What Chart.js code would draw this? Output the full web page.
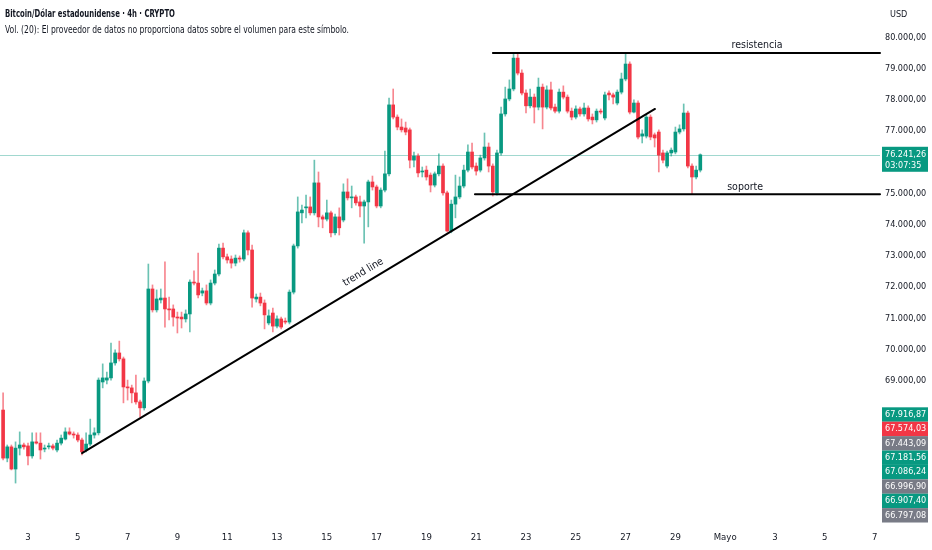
<!DOCTYPE html>
<html>
<head>
<meta charset="utf-8">
<script src="https://cdn.jsdelivr.net/npm/chart.js@4.4.1/dist/chart.umd.min.js"></script>
<style>
  html, body { margin: 0; padding: 0; background: #fff; }
  #wrap { position: relative; width: 932px; height: 550px; }
  #head { position: absolute; left: 5px; top: 5px; font-family: "DejaVu Sans Condensed", "DejaVu Sans", sans-serif; font-size: 10.5px; color: #131722; line-height: 16px; white-space: nowrap; }
  #head span { display: inline-block; transform-origin: 0 50%; }
  #head b { font-weight: bold; }
</style>
</head>
<body>
<div id="wrap">
  <canvas id="myChart" width="932" height="550"></canvas>
  <div id="head">
    <div><span id="h1" data-w="170"><b>Bitcoin/Dólar estadounidense · 4h · CRYPTO</b></span></div>
    <div><span id="h2" data-w="344">Vol. (20): El proveedor de datos no proporciona datos sobre el volumen para este símbolo.</span></div>
  </div>
</div>
<script>
// 4h candles, first bar = 2 Apr 00:00 (x axis is day of April, 31 = 1 May)
const firstBar = 2;
const barsPerDay = 6;

const open = [68060,66520,66880,66170,66840,66940,66910,66590,67040,67000,
  66810,66880,66910,66780,67000,67130,67360,67290,67260,67100,
  66780,66970,67260,67330,68960,69020,69090,69570,69890,69700,
  68800,68770,68610,68320,68130,68990,71940,71270,71590,71650,
  71300,71300,71040,71040,70980,71140,72160,72130,71810,71880,
  71490,72130,72420,73250,72970,72900,72770,72930,72900,73740,
  73190,71620,71680,71490,70850,71170,70750,70980,70910,70880,
  71840,73320,74380,74540,74570,74380,75340,74250,74180,74380,
  73740,74250,74150,75050,74860,74890,74730,74600,74730,75370,
  75210,74600,75110,75630,77840,77450,77130,77100,77040,76070,
  76200,75690,75750,75590,75270,75630,75880,75020,73800,74660,
  74890,75240,75750,76330,75880,75750,76140,76490,75880,75020,
  76300,77550,78030,78350,79340,78860,78220,77810,78090,77770,
  78410,77770,78320,77770,77640,78250,78090,77640,77450,77710,
  77550,77740,77450,77360,77640,77420,78220,78160,77900,78250,
  78670,79150,77610,77900,76840,76840,77450,76880,76970,76300,
  75880,76300,76330,76970,77070,77580,75880,75530,75750];

const high = [68610,66940,66940,67040,67360,67000,67000,67330,67330,67330,
  66940,67000,66970,67100,67260,67490,67490,67360,67330,67160,
  67330,67770,67490,69090,69540,69280,70210,69990,70270,69760,
  69020,68860,69180,68380,69090,72740,72070,71910,71940,72810,
  71680,71430,71200,71200,71270,72230,72520,73090,71970,72070,
  72230,72550,73380,73410,73060,73000,73030,73000,73830,73800,
  73350,71780,71810,71590,71270,71330,71080,71040,71010,71910,
  73380,74890,74630,74950,74890,76070,75690,74310,74790,74440,
  74340,74540,75310,75470,75240,74950,74920,74790,75430,75560,
  75270,75180,76360,78060,78350,77520,77390,77290,77100,76330,
  76270,75850,75880,75660,75690,76270,75950,75080,74790,75590,
  75530,75910,76560,76620,75980,76230,76940,76620,75950,76390,
  77770,78410,78640,79500,79500,78960,78320,78350,78190,78700,
  78510,78450,78570,77870,78350,78450,78160,77740,77810,77770,
  77900,77810,77550,77710,77710,78250,78290,78220,78320,78860,
  79500,79220,78000,77970,77040,77520,77520,76940,77040,76390,
  76360,76460,77130,77200,77870,77640,75950,75880,76270];

const low = [66460,66400,66140,65720,66620,66810,66300,66520,66970,66490,
  66720,66810,66780,66720,66940,67100,67260,67160,67040,66620,
  66720,66910,67160,67260,68770,68900,69020,69500,69630,68290,
  68380,68290,68250,67840,68060,68930,71200,71200,71490,70720,
  70950,70750,70530,70690,70880,70560,72070,71650,71720,71430,
  71430,72070,72360,72900,72770,72610,72680,72800,72840,73030,
  71360,71520,71400,70660,70790,70560,70690,70660,70820,70820,
  71780,73250,74060,74220,74310,74310,73930,73900,74120,73610,
  73670,73670,74090,74790,74540,74630,74250,73410,73930,75110,
  74540,74540,75050,75560,77390,77040,76970,76880,75820,75850,
  75530,75530,75430,75050,75210,75560,74950,73770,73740,74220,
  74830,75180,75690,75790,75590,75690,76070,75690,74920,74950,
  76230,77480,77970,78290,78800,78160,77580,77740,77260,77680,
  77070,77710,77680,77580,77580,78030,77580,77360,77390,77480,
  77480,77320,77230,77290,77550,77360,78000,77870,77840,78190,
  78610,77550,77580,76750,76620,76780,76720,76490,75690,75980,
  75820,76200,76270,76910,77000,75820,74990,75470,75690];

const close = [66520,66880,66170,66840,66940,66880,66590,67040,67000,66780,
  66840,66910,66840,67000,67160,67360,67290,67260,67100,66720,
  66970,67260,67330,69020,69090,69090,69570,69890,69700,68800,
  68770,68610,68320,68130,68990,71940,71270,71620,71650,71300,
  71270,71040,71010,70980,71140,72160,72130,71750,71880,71490,
  72130,72420,73250,72970,72870,72770,72930,72900,73740,73190,
  71650,71680,71490,71110,71080,70750,70980,70720,70880,71840,
  73320,74410,74470,74570,74380,75340,74250,74180,74380,73740,
  74250,73900,75050,74860,74890,74700,74600,74730,75370,75210,
  74600,75110,75630,77840,77450,77130,77040,76970,76070,76200,
  75660,75720,75530,75270,75630,75880,75020,73800,74660,74890,
  75240,75750,76330,75850,75720,76140,76490,75880,75050,76300,
  77550,78030,78350,79340,78860,78220,77810,78090,77770,78410,
  77770,78320,77740,77640,78250,78090,77640,77450,77710,77550,
  77740,77390,77360,77640,77610,78160,78160,78090,78250,78670,
  79150,77610,77900,76810,76910,77450,76810,76780,76230,76070,
  76300,76390,76970,77070,77580,75880,75530,75750,76241.26];

// axis ticks
const priceTicks = [69000,70000,71000,72000,73000,74000,75000,76000,77000,78000,79000,80000];
const dayTicks = [3,5,7,9,11,13,15,17,19,21,23,25,27,29,31,33,35,37];
const dayLabels = ["3","5","7","9","11","13","15","17","19","21","23","25","27","29","Mayo","3","5","7"];

// drawings on the chart
const trendLine = [{ x: 5.17, y: 66680 }, { x: 28.18, y: 77710 }];
const resistance = { from: 21.67, price: 79500 };
const support = { from: 20.95, price: 74980 };
const lastPrice = 76241.26;
const countdown = "03:07:35";

// price labels stacked at bottom of the scale
const sideValues = [67916.87, 67574.03, 67443.09, 67181.56, 67086.24, 66996.90, 66907.40, 66797.08];
const sideKinds = ["up", "down", "gray", "up", "up", "gray", "up", "gray"];

const up = "#089981";
const down = "#f23645";
const gray = "#787b86";
const font = "'DejaVu Sans Condensed', 'DejaVu Sans', sans-serif";

function fmt(v) {
  const parts = v.toFixed(2).split(".");
  return parts[0].replace(/\B(?=(\d{3})+(?!\d))/g, ".") + "," + parts[1];
}

const times = open.map((o, i) => firstBar + i / barsPerDay);
const colours = open.map((o, i) => (close[i] >= o ? up : down));
const wickColours = open.map((o, i) => (close[i] >= o ? "rgba(8,153,129,0.6)" : "rgba(242,54,69,0.6)"));

// last price line, behind candles
const priceLine = {
  id: "priceLine",
  beforeDatasetsDraw(chart) {
    const { ctx, chartArea: { left, right }, scales: { y } } = chart;
    const py = Math.round(y.getPixelForValue(lastPrice)) + 0.5;
    ctx.save();
    ctx.strokeStyle = "rgba(8,153,129,0.38)";
    ctx.lineWidth = 1;
    ctx.beginPath();
    ctx.moveTo(left, py);
    ctx.lineTo(right, py);
    ctx.stroke();
    ctx.restore();
  },
};

// trend line, resistencia, soporte
const drawings = {
  id: "drawings",
  afterDatasetsDraw(chart) {
    const { ctx, chartArea: { right }, scales: { x, y } } = chart;
    ctx.save();
    ctx.strokeStyle = "#000";
    ctx.lineWidth = 2;
    ctx.lineCap = "round";

    const x1 = x.getPixelForValue(trendLine[0].x);
    const y1 = y.getPixelForValue(trendLine[0].y);
    const x2 = x.getPixelForValue(trendLine[1].x);
    const y2 = y.getPixelForValue(trendLine[1].y);
    ctx.beginPath();
    ctx.moveTo(x1, y1);
    ctx.lineTo(x2, y2);
    ctx.stroke();

    const ry = y.getPixelForValue(resistance.price);
    ctx.beginPath();
    ctx.moveTo(x.getPixelForValue(resistance.from), ry);
    ctx.lineTo(right, ry);
    ctx.stroke();

    const sy = y.getPixelForValue(support.price);
    ctx.beginPath();
    ctx.moveTo(x.getPixelForValue(support.from), sy);
    ctx.lineTo(right, sy);
    ctx.stroke();

    ctx.fillStyle = "#131722";
    ctx.font = "10.5px " + font;
    ctx.textAlign = "center";
    ctx.textBaseline = "bottom";
    ctx.fillText("resistencia", x.getPixelForValue(32.28), ry - 3);
    ctx.fillText("soporte", x.getPixelForValue(31.8), sy - 2);

    // label along the trend line
    const angle = Math.atan2(y2 - y1, x2 - x1);
    const t = 0.5;
    ctx.translate(x1 + (x2 - x1) * t, y1 + (y2 - y1) * t);
    ctx.rotate(angle);
    ctx.fillText("trend line", 0, -5);
    ctx.restore();
  },
};

// labels on the price scale
const scaleLabels = {
  id: "scaleLabels",
  afterDraw(chart) {
    const { ctx, chartArea: { right }, scales: { y } } = chart;
    const boxL = right + 2;
    const boxW = 46;
    ctx.save();
    ctx.font = "9px " + font;
    ctx.textAlign = "left";
    ctx.textBaseline = "middle";

    // USD
    ctx.fillStyle = "#131722";
    ctx.fillText("USD", boxL + 8, 14.5);

    // last price + countdown
    const ly = y.getPixelForValue(lastPrice);
    ctx.fillStyle = up;
    ctx.fillRect(boxL, ly - 8, boxW, 25);
    ctx.fillStyle = "#fff";
    ctx.fillText(fmt(lastPrice), boxL + 3, ly);
    ctx.fillText(countdown, boxL + 3, ly + 11);

    // stacked values
    const h = 14.4;
    let prev = -Infinity;
    sideValues.forEach((v, i) => {
      let cy = y.getPixelForValue(v);
      if (cy < prev + h) cy = prev + h;
      prev = cy;
      const k = sideKinds[i];
      ctx.fillStyle = k === "up" ? up : k === "down" ? down : gray;
      ctx.fillRect(boxL, cy - h / 2, boxW, h);
      ctx.fillStyle = "#fff";
      ctx.fillText(fmt(v), boxL + 3, cy);
    });
    ctx.restore();
  },
};

const data = {
  datasets: [
    {
      label: "wicks",
      data: times.map((t, i) => ({ x: t, y: [low[i], high[i]] })),
      backgroundColor: wickColours,
      barThickness: 1,
      grouped: false,
      minBarLength: 1,
      order: 1,
    },
    {
      label: "bodies",
      data: times.map((t, i) => ({ x: t, y: [open[i], close[i]] })),
      backgroundColor: colours,
      barThickness: 3,
      grouped: false,
      minBarLength: 1,
      order: 0,
    },
  ],
};

const config = {
  type: "bar",
  data,
  options: {
    responsive: false,
    animation: false,
    devicePixelRatio: 1,
    layout: { padding: 0 },
    scales: {
      x: {
        type: "linear",
        min: 1.8755,
        max: 37.217,
        offset: false,
        grid: { display: false, drawTicks: false },
        border: { display: false },
        afterBuildTicks: (s) => {
          s.ticks = dayTicks.map((v) => ({ value: v }));
        },
        afterFit: (s) => {
          s.height = 30;
          s.paddingLeft = 0;
          s.paddingRight = 0;
        },
        ticks: {
          autoSkip: false,
          maxRotation: 0,
          padding: 12,
          color: "#131722",
          font: { family: font, size: 9.5 },
          callback: (v, i) => dayLabels[i],
        },
      },
      y: {
        position: "right",
        min: 64536,
        max: 81202,
        grid: { display: false, drawTicks: false },
        border: { display: false },
        afterBuildTicks: (s) => {
          s.ticks = priceTicks.map((v) => ({ value: v }));
        },
        afterFit: (s) => {
          s.width = 52;
          s.paddingTop = 0;
          s.paddingBottom = 0;
        },
        ticks: {
          padding: 5,
          color: "#131722",
          font: { family: font, size: 9 },
          callback: (v) => fmt(v),
        },
      },
    },
    plugins: {
      legend: { display: false },
      tooltip: { enabled: false },
    },
  },
  plugins: [priceLine, drawings, scaleLabels],
};

const myChart = new Chart(document.getElementById("myChart"), config);

// squeeze the header lines to the width they have in the picture
document.querySelectorAll("#head span").forEach((el) => {
  const w = el.getBoundingClientRect().width;
  el.style.transform = "scaleX(" + (Number(el.dataset.w) / w) + ")";
});
</script>
</body>
</html>
